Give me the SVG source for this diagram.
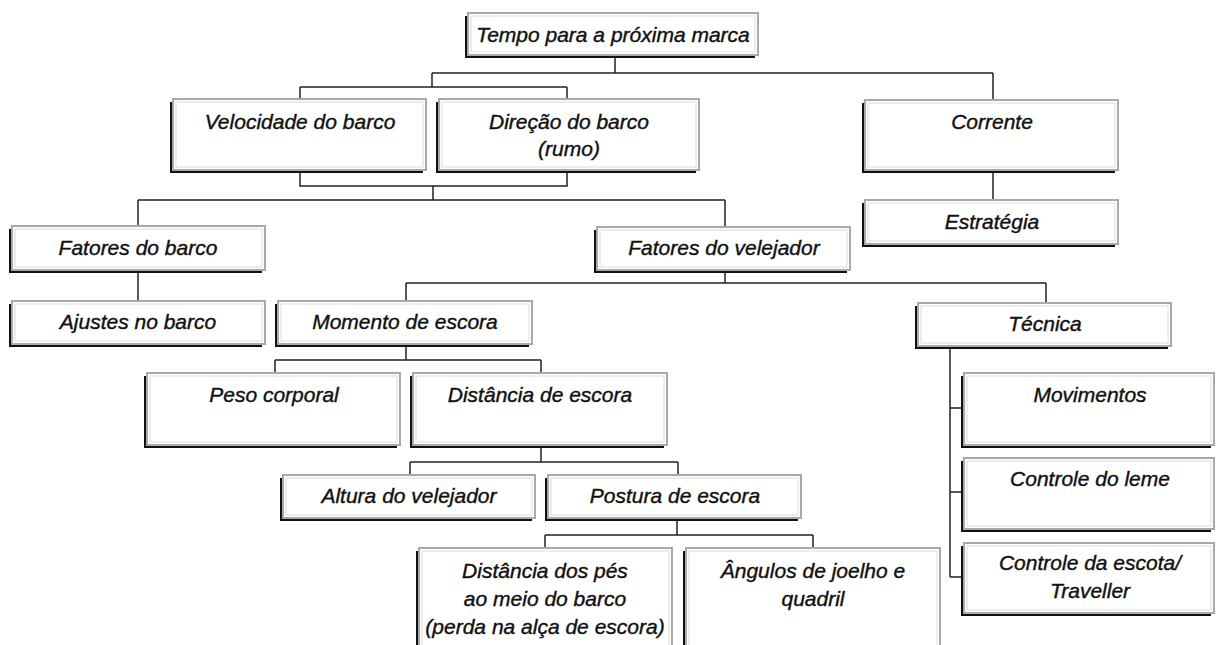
<svg xmlns="http://www.w3.org/2000/svg" width="1216" height="645" viewBox="0 0 1216 645">
<style>
.sh{fill:#111}
.bx{fill:#fff;stroke:#a9a9a9;stroke-width:2}
.in{fill:none;stroke:#dcdcdc;stroke-width:1}
.t{font-family:"Liberation Sans",Arial,sans-serif;font-style:italic;font-size:21px;fill:#111;stroke:#111;stroke-width:0.4;text-anchor:middle}
.c{fill:none;stroke:#222;stroke-width:1.5}
</style>
<rect width="1216" height="645" fill="#fff"/>
<g id="connectors">
<path class="c" d="M615 55V73M432 73H993M432 73V87M300 87H567M300 87V99M567 87V99M993 73V100"/>
<path class="c" d="M300 170V186H567V170M433 186V200M138 200H725M138 200V226M725 200V227"/>
<path class="c" d="M993 170V200"/>
<path class="c" d="M138 270V301"/>
<path class="c" d="M725 270V283M406 283H1046M406 283V301M1046 283V303"/>
<path class="c" d="M406 344V360M275 360H541M275 360V373M541 360V373"/>
<path class="c" d="M541 445V462M410 462H678M410 462V475M678 462V475"/>
<path class="c" d="M677 518V535M545 535H813M545 535V548M813 535V548"/>
<path class="c" d="M950 346V577M950 408H964M950 492H964M950 577H964"/>
</g>
<g id="tempo"><rect class="sh" x="465" y="16" width="290" height="42"/><rect class="bx" x="468" y="13" width="290" height="42"/><rect class="in" x="471" y="16" width="284" height="36"/><text class="t" x="613" y="42">Tempo para a próxima marca</text></g>
<g id="velocidade"><rect class="sh" x="170" y="102" width="253" height="71"/><rect class="bx" x="173" y="99" width="253" height="71"/><rect class="in" x="176" y="102" width="247" height="65"/><text class="t" x="300" y="129">Velocidade do barco</text></g>
<g id="direcao"><rect class="sh" x="436" y="102" width="260" height="71"/><rect class="bx" x="439" y="99" width="260" height="71"/><rect class="in" x="442" y="102" width="254" height="65"/><text class="t" x="569" y="129">Direção do barco</text><text class="t" x="569" y="156">(rumo)</text></g>
<g id="corrente"><rect class="sh" x="862" y="103" width="253" height="70"/><rect class="bx" x="865" y="100" width="253" height="70"/><rect class="in" x="868" y="103" width="247" height="64"/><text class="t" x="992" y="129">Corrente</text></g>
<g id="estrategia"><rect class="sh" x="862" y="203" width="253" height="44"/><rect class="bx" x="865" y="200" width="253" height="44"/><rect class="in" x="868" y="203" width="247" height="38"/><text class="t" x="992" y="229">Estratégia</text></g>
<g id="fatores-barco"><rect class="sh" x="9" y="229" width="253" height="44"/><rect class="bx" x="12" y="226" width="253" height="44"/><rect class="in" x="15" y="229" width="247" height="38"/><text class="t" x="138" y="255">Fatores do barco</text></g>
<g id="fatores-velejador"><rect class="sh" x="594" y="230" width="253" height="43"/><rect class="bx" x="597" y="227" width="253" height="43"/><rect class="in" x="600" y="230" width="247" height="37"/><text class="t" x="724" y="255">Fatores do velejador</text></g>
<g id="ajustes"><rect class="sh" x="9" y="304" width="253" height="43"/><rect class="bx" x="12" y="301" width="253" height="43"/><rect class="in" x="15" y="304" width="247" height="37"/><text class="t" x="138" y="329">Ajustes no barco</text></g>
<g id="momento"><rect class="sh" x="275" y="304" width="254" height="43"/><rect class="bx" x="278" y="301" width="254" height="43"/><rect class="in" x="281" y="304" width="248" height="37"/><text class="t" x="405" y="329">Momento de escora</text></g>
<g id="tecnica"><rect class="sh" x="915" y="306" width="253" height="43"/><rect class="bx" x="918" y="303" width="253" height="43"/><rect class="in" x="921" y="306" width="247" height="37"/><text class="t" x="1045" y="331">Técnica</text></g>
<g id="peso"><rect class="sh" x="144" y="376" width="253" height="72"/><rect class="bx" x="147" y="373" width="253" height="72"/><rect class="in" x="150" y="376" width="247" height="66"/><text class="t" x="274" y="402">Peso corporal</text></g>
<g id="distancia-escora"><rect class="sh" x="410" y="376" width="254" height="72"/><rect class="bx" x="413" y="373" width="254" height="72"/><rect class="in" x="416" y="376" width="248" height="66"/><text class="t" x="540" y="402">Distância de escora</text></g>
<g id="altura"><rect class="sh" x="280" y="478" width="252" height="43"/><rect class="bx" x="283" y="475" width="252" height="43"/><rect class="in" x="286" y="478" width="246" height="37"/><text class="t" x="409" y="503">Altura do velejador</text></g>
<g id="postura"><rect class="sh" x="545" y="478" width="253" height="43"/><rect class="bx" x="548" y="475" width="253" height="43"/><rect class="in" x="551" y="478" width="247" height="37"/><text class="t" x="675" y="503">Postura de escora</text></g>
<g id="distancia-pes"><rect class="sh" x="416" y="551" width="253" height="110"/><rect class="bx" x="419" y="548" width="253" height="110"/><rect class="in" x="422" y="551" width="247" height="104"/><text class="t" x="545" y="578">Distância dos pés</text><text class="t" x="545" y="606">ao meio do barco</text><text class="t" x="545" y="634">(perda na alça de escora)</text></g>
<g id="angulos"><rect class="sh" x="683" y="551" width="254" height="110"/><rect class="bx" x="686" y="548" width="254" height="110"/><rect class="in" x="689" y="551" width="248" height="104"/><text class="t" x="813" y="578">Ângulos de joelho e</text><text class="t" x="813" y="606">quadril</text></g>
<g id="movimentos"><rect class="sh" x="961" y="376" width="250" height="72"/><rect class="bx" x="964" y="373" width="250" height="72"/><rect class="in" x="967" y="376" width="244" height="66"/><text class="t" x="1090" y="402">Movimentos</text></g>
<g id="leme"><rect class="sh" x="961" y="461" width="250" height="71"/><rect class="bx" x="964" y="458" width="250" height="71"/><rect class="in" x="967" y="461" width="244" height="65"/><text class="t" x="1090" y="486">Controle do leme</text></g>
<g id="escota"><rect class="sh" x="961" y="546" width="250" height="70"/><rect class="bx" x="964" y="543" width="250" height="70"/><rect class="in" x="967" y="546" width="244" height="64"/><text class="t" x="1090" y="570">Controle da escota/</text><text class="t" x="1090" y="598">Traveller</text></g>
</svg>
